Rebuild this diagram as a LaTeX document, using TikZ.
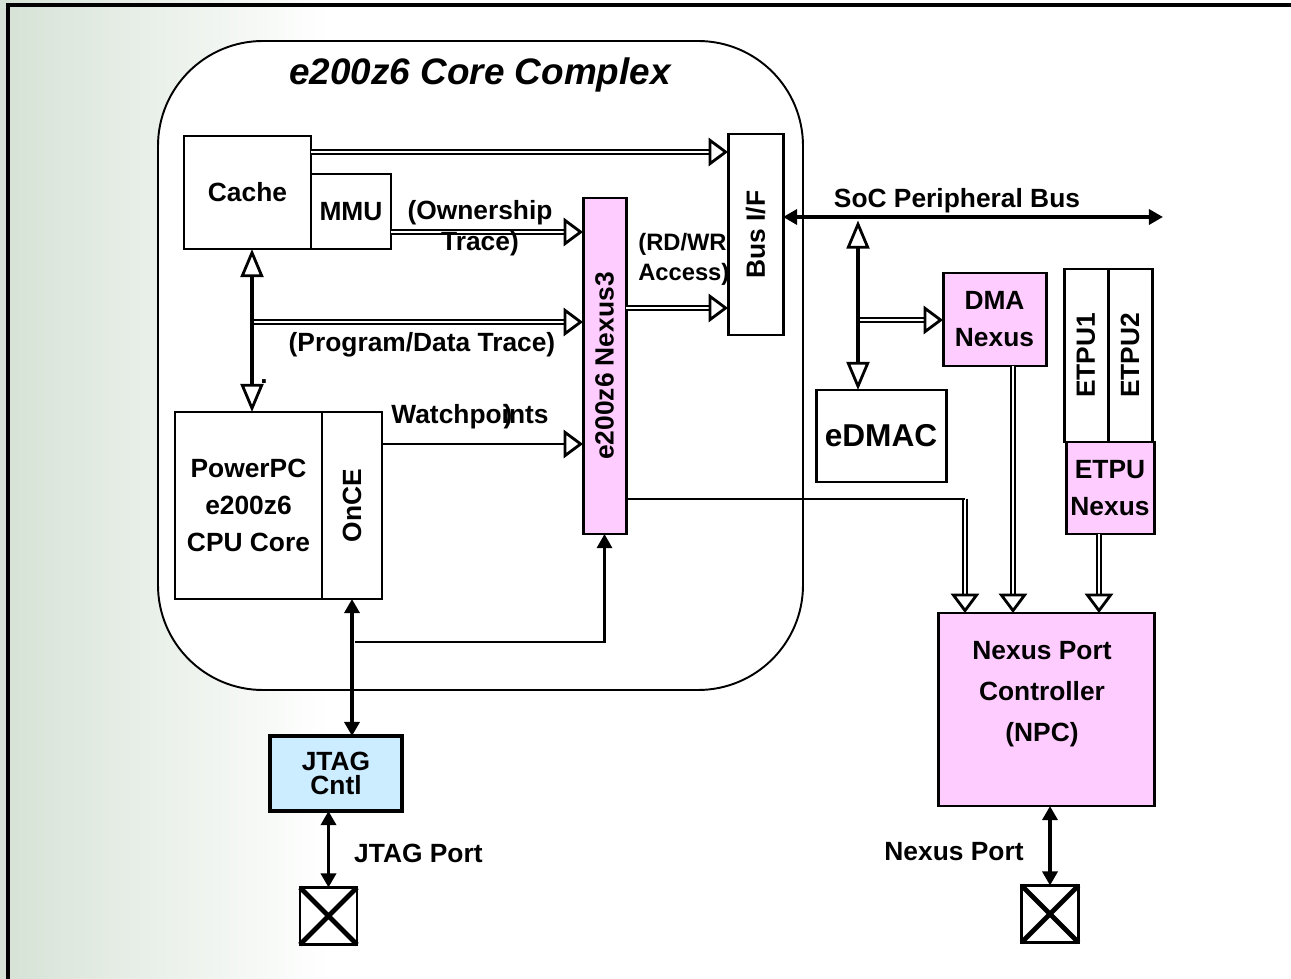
\documentclass[tikz,border=0pt]{standalone}
\usepackage{graphicx}
\usepackage{fontspec}
\setmainfont{Liberation Sans}
\usetikzlibrary{arrows.meta}

\definecolor{nexusPink}{RGB}{255,204,255}
\definecolor{jtagBlue}{RGB}{204,236,255}
\definecolor{fadeGreen}{RGB}{214,226,214}

\newcommand{\pxu}{0.02cm}

\tikzset{
	block/.style={rectangle, draw, fill=white, line width=1.7pt, inner sep=0pt, outer sep=0pt, align=center},
	nexusBlock/.style={block, fill=nexusPink},
	openHead/.tip={Triangle[open, length=11pt, width=16pt, line width=1.6pt]},
	tallHead/.tip={Triangle[open, length=16pt, width=13pt, line width=1.6pt]},
	solidHead/.tip={Triangle[length=8pt, width=8.5pt]},
	dblArrow/.style={double, double distance=1.2pt, line width=1.1pt, -openHead},
	plainArrow/.style={line width=1.7pt}
}

\begin{document}
\begin{tikzpicture}[x=\pxu, y=-\pxu,
	every node/.style={font=\fontsize{15}{21}\selectfont\bfseries}]
		
		\useasboundingbox (0,0) rectangle (1291,979);
		\shade[left color=fadeGreen, right color=white] (0,0) rectangle (330,979);
		\draw[line width=2.3pt] (8,979) -- (8,5) -- (1291,5);
		
		% Core complex
		
		\node[rectangle, draw, fill=white, line width=1.1pt, rounded corners=2.1cm, inner sep=0pt,
		minimum width=645*\pxu, minimum height=649*\pxu] 
		(coreComplex) at (480.5,365.5) {};
		
		\node[font=\fontsize{21}{24}\selectfont\bfseries\itshape] 
		(coreTitle) at (480,75) {e200z6 Core Complex};
		
		\node[block, minimum width=127*\pxu, minimum height=113*\pxu] 
		(cacheNode) at (247.5,192.5) {Cache};
		
		\node[block, minimum width=80*\pxu, minimum height=75*\pxu] 
		(mmuNode) at (351,211.5) {MMU};
		
		\node[block, minimum width=55*\pxu, minimum height=201*\pxu] 
		(busIfNode) at (755.5,234.5) {\rotatebox{90}{Bus I/F}};
		
		\node[nexusBlock, minimum width=43*\pxu, minimum height=336*\pxu] 
		(nexusThreeNode) at (604.5,366) {\rotatebox{90}{e200z6 Nexus3}};
		
		\node[block, minimum width=147*\pxu, minimum height=187*\pxu] 
		(cpuNode) at (248.5,505.5) {PowerPC\\e200z6\\CPU Core};
		
		\node[block, minimum width=60*\pxu, minimum height=187*\pxu] 
		(onceNode) at (352,505.5) {\rotatebox{90}{OnCE}};
		
		% JTAG side
		
		\node[block, fill=jtagBlue, line width=2.2pt, minimum width=132*\pxu, minimum height=75*\pxu,
		font=\fontsize{15}{14}\selectfont\bfseries] 
		(jtagCntlNode) at (336,773.5) {JTAG\\Cntl};
		
		\node[block, line width=1.2pt, minimum size=57*\pxu] 
		(jtagPortNode) at (328.5,916) {};
		\draw[line width=2.8pt] (jtagPortNode.north west) -- (jtagPortNode.south east)
		(jtagPortNode.north east) -- (jtagPortNode.south west);
		
		% Peripheral side
		
		\node[block, minimum width=130*\pxu, minimum height=92*\pxu,
		font=\fontsize{18}{21}\selectfont\bfseries] 
		(eDmacNode) at (881,436) {eDMAC};
		
		\node[nexusBlock, minimum width=103*\pxu, minimum height=93*\pxu] 
		(dmaNexusNode) at (994.5,319.5) {DMA\\Nexus};
		
		\node[block, minimum width=44*\pxu, minimum height=173*\pxu] 
		(etpuOneNode) at (1086,355.5) {\rotatebox{90}{ETPU1}};
		
		\node[block, minimum width=44*\pxu, minimum height=173*\pxu] 
		(etpuTwoNode) at (1130,355.5) {\rotatebox{90}{ETPU2}};
		
		\node[nexusBlock, minimum width=88*\pxu, minimum height=92*\pxu] 
		(etpuNexusNode) at (1110,488) {ETPU\\Nexus};
		
		\node[nexusBlock, minimum width=216*\pxu, minimum height=193*\pxu] 
		(npcNode) at (1046,709.5) {};
		\node[align=center, font=\fontsize{15}{23.5}\selectfont\bfseries] 
		(npcText) at (1042,694) {Nexus Port\\Controller\\(NPC)};
		
		\node[block, line width=1.2pt, minimum size=57*\pxu] 
		(nexusPortNode) at (1050,914) {};
		\draw[line width=2.8pt] (nexusPortNode.north west) -- (nexusPortNode.south east)
		(nexusPortNode.north east) -- (nexusPortNode.south west);
		
		% Double arrows
		
		\coordinate (traceTap) at (252,322);
		\coordinate (busTap) at (858,217);
		\coordinate (busEnd) at (1163,217);
		\coordinate (npcCorner) at (965,499);
		\coordinate (jtagTap) at (355,642);
		
		\draw[dblArrow] (cacheNode.east |- 0,152) -- (busIfNode.west |- 0,152);
		
		\draw[dblArrow] (mmuNode.east |- 0,232) -- (nexusThreeNode.west |- 0,232);
		
		\draw[dblArrow] (nexusThreeNode.east |- 0,308) -- (busIfNode.west |- 0,308);
		
		\draw[dblArrow] (traceTap) -- (nexusThreeNode.west |- traceTap);
		
		\draw[dblArrow] (busTap |- 0,320) -- (dmaNexusNode.west |- 0,320);
		
		\draw[dblArrow] (npcCorner) -- (npcNode.north -| npcCorner);
		
		\draw[dblArrow] (dmaNexusNode.south -| 1013,0) -- (npcNode.north -| 1013,0);
		
		\draw[dblArrow] (etpuNexusNode.south -| 1099,0) -- (npcNode.north -| 1099,0);
		
		% Single arrows
		
		\draw[line width=2.3pt, tallHead-tallHead] (cacheNode.south -| traceTap) -- (cpuNode.north -| traceTap);
		
		\draw[plainArrow, -openHead] (onceNode.east |- 0,444) -- (nexusThreeNode.west |- 0,444);
		
		\draw[line width=2.2pt, solidHead-solidHead] (onceNode.south) -- (onceNode.south |- jtagCntlNode.north);
		
		\draw[plainArrow, -solidHead] (jtagTap) -| (nexusThreeNode.south);
		
		\draw[line width=2.2pt, solidHead-solidHead] (jtagCntlNode.south -| jtagPortNode.north) -- (jtagPortNode.north);
		
		\draw[line width=2.8pt, solidHead-solidHead] (busIfNode.east |- busEnd) -- (busEnd);
		
		\draw[line width=2.8pt, tallHead-tallHead, shorten <=2pt] (busTap) -- (eDmacNode.north -| busTap);
		
		\draw[plainArrow] (nexusThreeNode.east |- npcCorner) -- (npcCorner);
		
		\draw[line width=2.2pt, solidHead-solidHead] (npcNode.south -| nexusPortNode.north) -- (nexusPortNode.north);
		
		% Labels
		
		\node[align=center, font=\fontsize{15}{17.5}\selectfont\bfseries] 
		(ownershipLabel) at (480,228) {(Ownership\\Trace)};
		
		\node[align=left, anchor=west, inner sep=0pt, font=\fontsize{13.5}{17}\selectfont\bfseries] 
		(accessLabel) at (638,259) {(RD/WR\\Access)};
		
		\node (traceLabel) at (422,345) {(Program/Data Trace)};
		\node (watchLabel) at (470,417) {Watchpoints};
		\node (watchStray) at (508,417) {)};
		\node (dotLabel) at (264,382) {.};
		\node (socLabel) at (957,201) {SoC Peripheral Bus};
		\node[anchor=west] (jtagPortLabel) at (348,853) {JTAG Port};
		\node (nexusPortLabel) at (954,852) {Nexus Port};
		
	\end{tikzpicture}
\end{document}
